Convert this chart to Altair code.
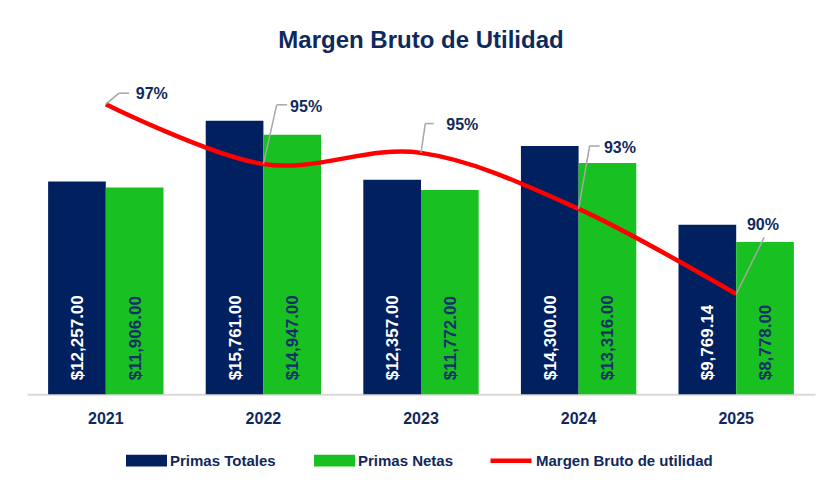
import altair as alt
import pandas as pd

# ---- data ----
years = ["2021", "2022", "2023", "2024", "2025"]
primas_totales = [12257.00, 15761.00, 12357.00, 14300.00, 9769.14]
primas_netas = [11906.00, 14947.00, 11772.00, 13316.00, 8778.00]
margen = [0.9714, 0.9484, 0.9527, 0.9312, 0.8985]
series = ["Primas Totales", "Primas Netas"]
line_name = "Margen Bruto de utilidad"

# ---- styles ----
NAVY = "#002060"
GREEN = "#18C121"
TEXT_NAVY = "#10295C"
GREEN_LABEL = "#143068"
RED = "#FF0000"
GRAY = "#A6A6A6"
FONT = "Liberation Sans"

# label placement (pixel offsets from each point): text start / leader elbow / leader end
lab_dx = [30, 26.7, 25.3, 25.3, 10.7]
lab_dy = [-10, -57.3, -27.6, -61, -69.3]
elb_dx = [13.3, 13.3, 4.3, 11, 28]
elb_dy = [-11, -59.3, -29.3, -62.9, -56.6]
end_dx = [23.3, 23.7, 12.6, 21, 28]

rows = []
for i, y in enumerate(years):
    rows.append({"year": y, "serie": series[0], "value": primas_totales[i]})
    rows.append({"year": y, "serie": series[1], "value": primas_netas[i]})
df_bars = pd.DataFrame(rows)
df_line = pd.DataFrame({"year": years, "margin": margen, "serie2": [line_name] * len(years)})

x_enc = alt.X(
    "year:N",
    sort=years,
    title=None,
    scale=alt.Scale(paddingInner=0.268, paddingOuter=0.134),
    axis=alt.Axis(
        labelAngle=0, ticks=False, tickSize=0, domainColor="#D9D9D9", domainWidth=2,
        labelFont=FONT, labelFontSize=16, labelFontWeight="bold", labelColor=TEXT_NAVY,
        labelPadding=24, labelBaseline="middle", grid=False,
    ),
)
xoff = alt.XOffset("serie:N", sort=series, scale=alt.Scale(domain=series, paddingInner=0, paddingOuter=0))
y_prim = alt.Y("value:Q", scale=alt.Scale(domain=[0, 18000], nice=False), axis=None)

bars = alt.Chart(df_bars).mark_bar().encode(
    x=x_enc,
    xOffset=xoff,
    y=y_prim,
    color=alt.Color(
        "serie:N",
        scale=alt.Scale(domain=series, range=[NAVY, GREEN]),
        legend=alt.Legend(
            title=None, orient="none", legendX=99, legendY=358, direction="horizontal",
            symbolType="M-1,-0.285L1,-0.285L1,0.285L-1,0.285Z", symbolSize=1681,
            symbolStrokeWidth=0, labelFont=FONT, labelFontSize=15, labelFontWeight="bold",
            labelColor=TEXT_NAVY, labelOffset=3, columnPadding=38, padding=0, labelLimit=300,
        ),
    ),
)

bar_text = alt.Chart(df_bars).mark_text(
    angle=270, align="left", baseline="middle", dx=14, dy=1,
    font=FONT, fontSize=17, fontWeight="bold",
).encode(
    x=x_enc,
    xOffset=xoff,
    y=alt.datum(0),
    text=alt.Text("value:Q", format="$,.2f"),
    color=alt.condition(alt.datum.serie == series[0], alt.value("white"), alt.value(GREEN_LABEL)),
)

primary = alt.layer(bars, bar_text)

y_sec = alt.Y("margin:Q", scale=alt.Scale(domain=[0.86, 0.98], nice=False, zero=False), axis=None)

line = alt.Chart(df_line).mark_line(interpolate="cardinal", strokeWidth=4.5).encode(
    x=x_enc,
    y=y_sec,
    stroke=alt.Stroke(
        "serie2:N",
        scale=alt.Scale(domain=[line_name], range=[RED]),
        legend=alt.Legend(
            title=None, orient="none", legendX=461, legendY=356, direction="horizontal",
            symbolType="stroke", symbolSize=1681, symbolStrokeWidth=4.5,
            labelFont=FONT, labelFontSize=15, labelFontWeight="bold",
            labelColor=TEXT_NAVY, labelOffset=2, padding=0, labelLimit=300,
        ),
    ),
)

sec_layers = [line]
for i, yr in enumerate(years):
    base = alt.Chart(df_line).transform_filter(alt.datum.year == yr)
    diag = base.mark_rule(
        color=GRAY, strokeWidth=1.5, x2Offset=elb_dx[i], y2Offset=elb_dy[i]
    ).encode(x=x_enc, y=y_sec, x2="year:N", y2="margin:Q")
    sec_layers.append(diag)
    if end_dx[i] != elb_dx[i]:
        horiz = base.mark_rule(
            color=GRAY, strokeWidth=1.5, xOffset=elb_dx[i], yOffset=elb_dy[i],
            x2Offset=end_dx[i], y2Offset=elb_dy[i],
        ).encode(x=x_enc, y=y_sec, x2="year:N", y2="margin:Q")
        sec_layers.append(horiz)
    lab = base.mark_text(
        align="left", baseline="middle", dx=lab_dx[i], dy=lab_dy[i],
        font=FONT, fontSize=16, fontWeight="bold", color=TEXT_NAVY,
    ).encode(x=x_enc, y=y_sec, text=alt.Text("margin:Q", format=".0%"))
    sec_layers.append(lab)

secondary = alt.layer(*sec_layers)

chart = alt.layer(primary, secondary).resolve_scale(
    y="independent", color="independent"
).properties(
    width=788,
    height=312.5,
    padding={"left": 19, "top": 73.8, "right": 3, "bottom": 84.7},
    autosize=alt.AutoSizeParams(type="none"),
    background="white",
    title=alt.TitleParams(
        "Margen Bruto de Utilidad", font=FONT, fontSize=24, fontWeight="bold",
        color=TEXT_NAVY, anchor="middle", frame="group", baseline="alphabetic", offset=9.5,
    ),
).configure_view(stroke=None)

chart.save("out.html", embed_options={"renderer": "svg", "actions": False})
